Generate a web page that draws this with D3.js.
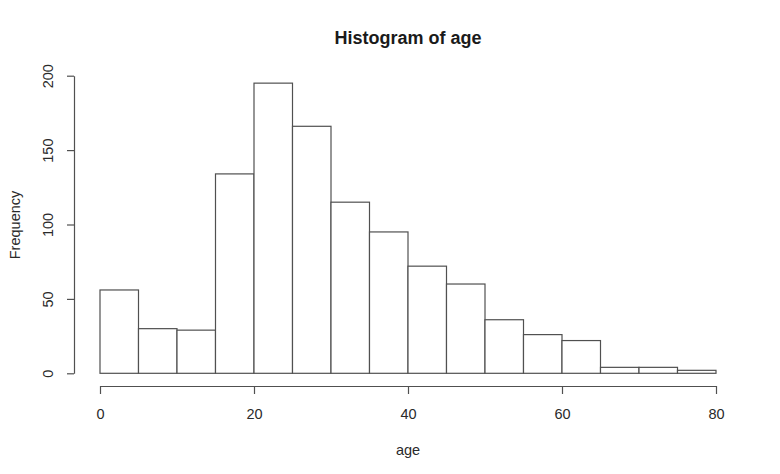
<!DOCTYPE html>
<html><head><meta charset="utf-8">
<script src="https://cdn.jsdelivr.net/npm/d3@7"></script>
<style>body{margin:0;background:#fff}svg{display:block;font-family:"Liberation Sans",Arial,sans-serif}</style>
</head><body>
<script>
const binStarts = [0,5,10,15,20,25,30,35,40,45,50,55,60,65,70,75];
const binWidth = 5;
const counts = [56,30,29,134,195,166,115,95,72,60,36,26,22,4,4,2];
const xTicks = [0,20,40,60,80];
const yTicks = [0,50,100,150,200];
const title = "Histogram of age";
const xLabel = "age";
const yLabel = "Frequency";

const W = 780, H = 474;
const svg = d3.select("body").append("svg").attr("width", W).attr("height", H);
const x = d3.scaleLinear().domain([0,80]).range([100,716]);
const y = d3.scaleLinear().domain([0,200]).range([373.3,75.7]);
const lineCol = "#505050", textCol = "#2a2a2a";

svg.append("g").selectAll("rect").data(binStarts).join("rect")
  .attr("x", d => x(d)).attr("width", d => x(d+binWidth) - x(d))
  .attr("y", (d,i) => y(counts[i])).attr("height", (d,i) => y(0) - y(counts[i]))
  .attr("fill", "#fff").attr("stroke", lineCol).attr("stroke-width", 1.2);

const xa = svg.append("g").attr("transform","translate(0,386)")
  .call(d3.axisBottom(x).tickValues(xTicks).tickSize(8).tickPadding(15).tickSizeOuter(0).tickFormat(d3.format("d")));
const ya = svg.append("g").attr("transform","translate(74,0)")
  .call(d3.axisLeft(y).tickValues(yTicks).tickSize(7).tickSizeOuter(0).tickFormat(d3.format("d")));
[xa,ya].forEach(a => {
  a.select(".domain").attr("stroke", lineCol).attr("stroke-width",1.2);
  a.selectAll(".tick line").attr("stroke", lineCol).attr("stroke-width",1.2);
  a.selectAll("text").attr("fill", textCol).style("font-size","14.5px");
});
ya.selectAll(".tick").each(function(d){
  d3.select(this).select("text")
    .attr("transform","translate(-21,0) rotate(-90)")
    .attr("x",0).attr("y",0).attr("dy","0").attr("text-anchor","middle");
});

svg.append("text").attr("x", 408).attr("y", 44).attr("text-anchor","middle")
  .attr("font-weight","bold").style("font-size","18px").attr("fill","#1a1a1a").text(title);
svg.append("text").attr("x", 408).attr("y", 455).attr("text-anchor","middle")
  .style("font-size","14.5px").attr("fill",textCol).text(xLabel);
svg.append("text").attr("transform","translate(20,225) rotate(-90)").attr("text-anchor","middle")
  .style("font-size","14.5px").attr("fill",textCol).text(yLabel);
</script>
</body></html>
